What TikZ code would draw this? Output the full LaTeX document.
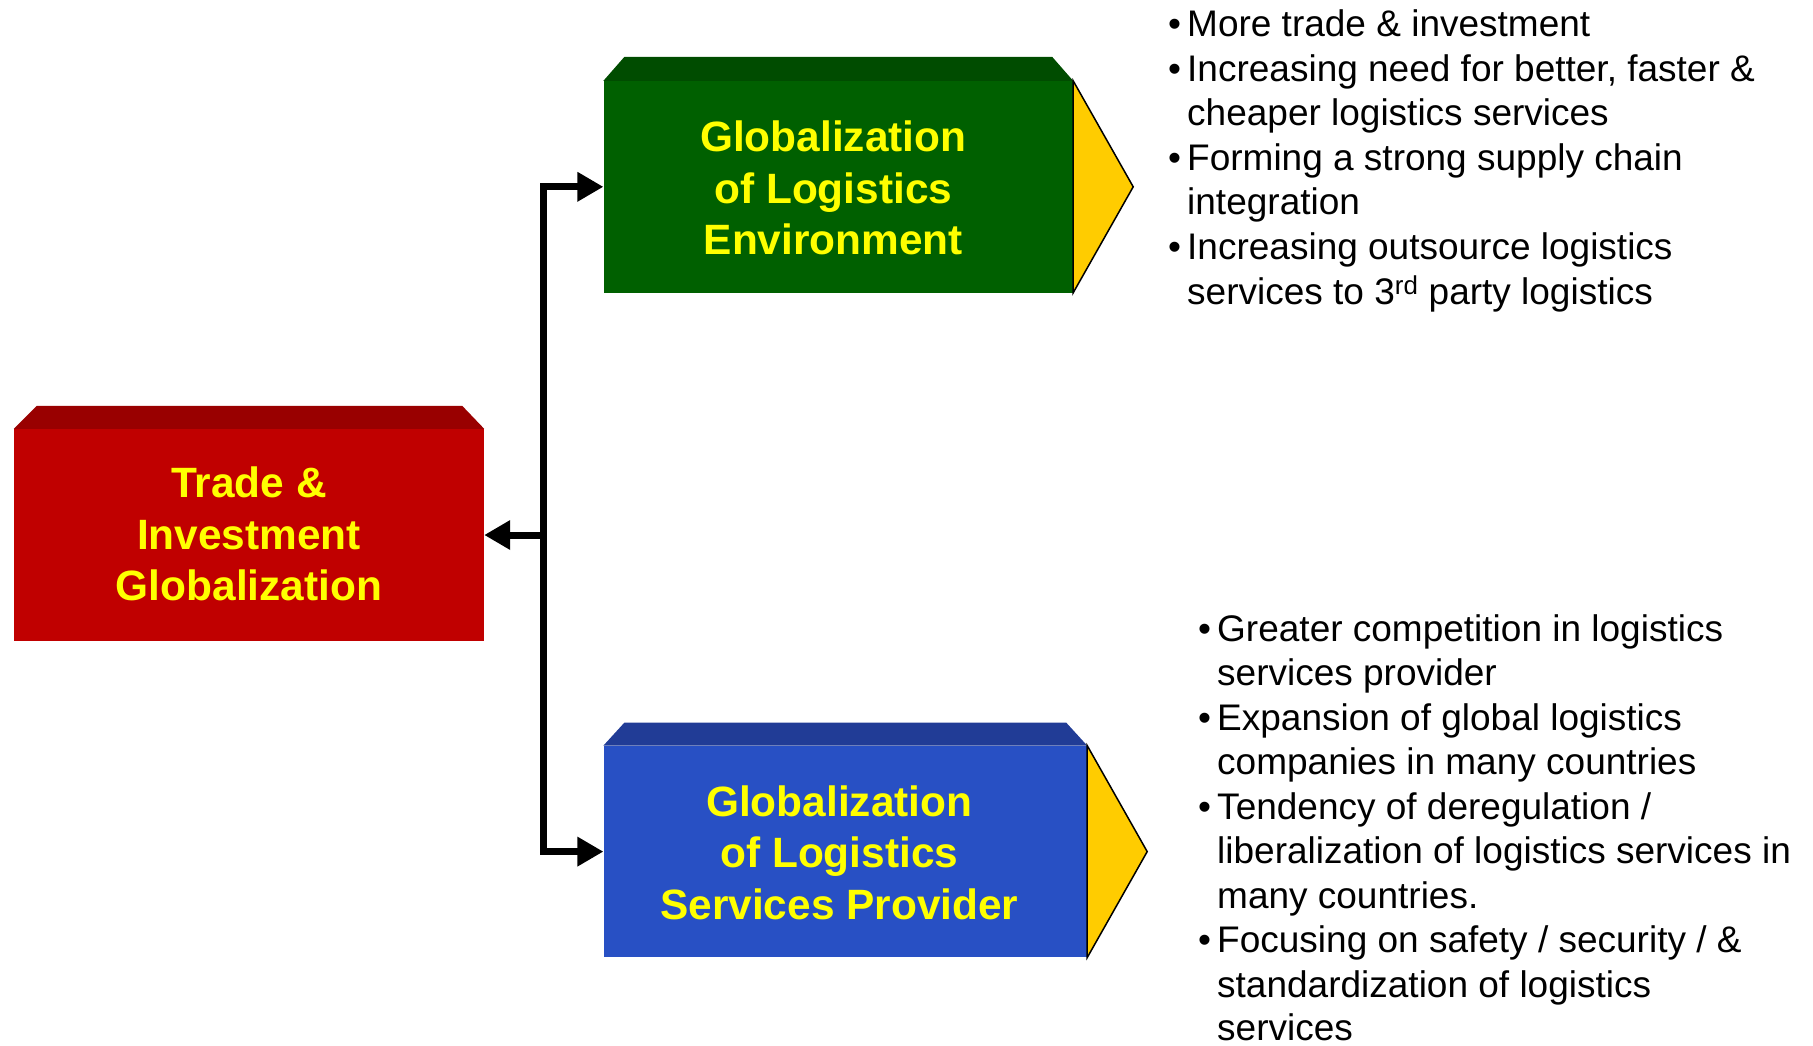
\documentclass[tikz,border=0pt]{standalone}
\usepackage{fontspec}
\setmainfont{Liberation Sans}
\usetikzlibrary{arrows.meta}
\definecolor{redface}{HTML}{C00000}
\definecolor{redtop}{HTML}{990000}
\definecolor{greenface}{HTML}{006000}
\definecolor{greentop}{HTML}{004C00}
\definecolor{blueface}{HTML}{2850C4}
\definecolor{bluetop}{HTML}{213C96}
\definecolor{tri}{HTML}{FFCC00}
\definecolor{txtyellow}{HTML}{FFFF00}
\tikzset{
  face/.style={inner sep=0pt},
  facetext/.style={inner sep=0pt, align=center, text=txtyellow,
    font=\fontsize{42.4}{51.5}\selectfont\bfseries},
  bullettext/.style={anchor=base west, inner sep=0pt,
    font=\fontsize{37}{44.6}\selectfont},
  conn/.style={line width=7pt, -{Triangle[length=26pt,width=28pt]}},
  tripart/.style={fill=tri, draw=black, line width=1.5pt, line join=miter},
}
\begin{document}
\begin{tikzpicture}[x=1pt,y=-1pt]
\useasboundingbox (0,0) rectangle (1813,1045);

% faces
\node[face, fill=redface, minimum width=470pt, minimum height=212pt] (red) at (249,535) {};
\node[face, fill=greenface, minimum width=469.4pt, minimum height=211.5pt] (green) at (838.3,186.8) {};
\node[face, fill=blueface, minimum width=483.4pt, minimum height=211.6pt] (blue) at (845.3,851.6) {};

\node[facetext] (redlabel) at ([xshift=0pt,yshift=1pt]red.center) {Trade \&\\Investment\\Globalization};
\node[facetext] (greenlabel) at ([xshift=-5pt,yshift=-1.5pt]green.center) {Globalization\\of Logistics\\Environment};
\node[facetext] (bluelabel) at ([xshift=-6pt,yshift=-1pt]blue.center) {Globalization\\of Logistics\\Services Provider};

% bevels
\fill[redtop] (red.north west) -- ++(23,-23) -- ([xshift=-22pt,yshift=23pt]red.north east) -- (red.north east) -- cycle;
\fill[greentop] (green.north west) -- ++(21,-24) -- ([xshift=-21pt,yshift=24pt]green.north east) -- (green.north east) -- cycle;
\fill[bluetop] (blue.north west) -- ++(21,-23) -- ([xshift=-21pt,yshift=23pt]blue.north east) -- (blue.north east) -- cycle;

% yellow triangles
\draw[tripart] (green.north east) -- ([xshift=60pt]green.east) -- (green.south east) -- cycle;
\draw[tripart] (blue.north east) -- ([xshift=60pt]blue.east) -- (blue.south east) -- cycle;

% connectors
\coordinate (hub) at (543.4,535);
\draw[conn] (hub) |- (green.west);
\draw[conn] (hub) |- (blue.west);
\draw[conn] (hub) -- (red.east);

% top bullet list
\foreach \y/\b/\t [count=\i] in {
  36/1/{More trade \& investment},
  81/1/{Increasing need for better, faster \&},
  125/0/{cheaper logistics services},
  170/1/{Forming a strong supply chain},
  214/0/{integration},
  259/1/{Increasing outsource logistics},
  304/0/{services to 3\textsuperscript{rd} party logistics}} {
  \node[bullettext] (ta\i) at (1187,\y) {\t};
  \ifnum\b=1 \node[bullettext] (tb\i) at (1168,\y) {•};\fi
}

% bottom bullet list
\foreach \y/\b/\t [count=\i] in {
  641/1/{Greater competition in logistics},
  685/0/{services provider},
  730/1/{Expansion of global logistics},
  774/0/{companies in many countries},
  819/1/{Tendency of deregulation /},
  863/0/{liberalization of logistics services in},
  908/0/{many countries.},
  952/1/{Focusing on safety / security / \&},
  997/0/{standardization of logistics},
  1040/0/{services}} {
  \node[bullettext] (ba\i) at (1217,\y) {\t};
  \ifnum\b=1 \node[bullettext] (bb\i) at (1198,\y) {•};\fi
}
\end{tikzpicture}
\end{document}
